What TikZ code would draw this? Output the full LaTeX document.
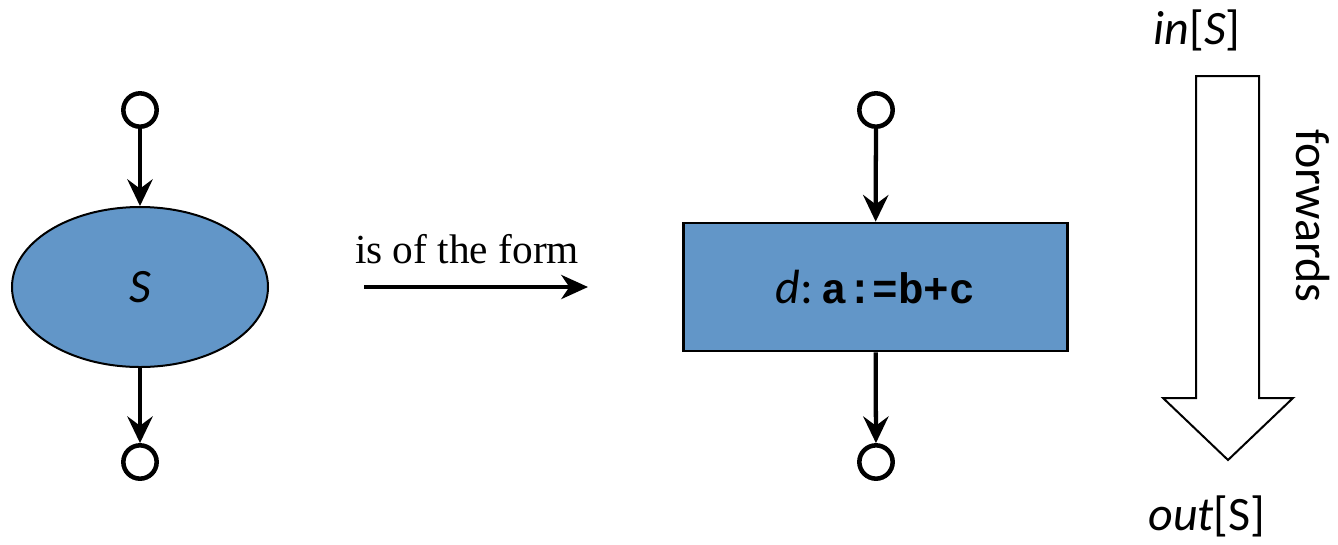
\documentclass[tikz,border=0pt]{standalone}
\usepackage{fontspec}
\setmainfont{Carlito}
\newfontfamily\seriffont{Liberation Serif}
\newfontfamily\codefont{Liberation Mono}
\usetikzlibrary{shapes.geometric,arrows.meta}
\definecolor{stmtblue}{RGB}{98,150,200}
\tikzset{
  port/.style={circle,draw=black,line width=3.4pt,fill=white,minimum size=25pt,inner sep=0pt},
  flow/.style={line width=3.2pt,-{Stealth[length=20pt,width=19pt,inset=7pt]}},
  stmt/.style={fill=stmtblue,draw=black},
  lbl/.style={font=\fontsize{36}{40}\selectfont,inner sep=0pt}
}
\begin{document}
\begin{tikzpicture}[x=0.75pt,y=-0.75pt]
\useasboundingbox (0,0) rectangle (1338,544);
% left part
\node[port] (lt) at (140,110) {};
\node[stmt,ellipse,line width=1.5pt,minimum width=192pt,minimum height=120pt,inner sep=0pt] (S) at (140,287) {\fontsize{36}{40}\selectfont\itshape S};
\node[port] (lb) at (140,462) {};
\draw[flow] (lt) -- (S);
\draw[flow] (S) -- (lb);
% middle arrow
\coordinate (ma) at (364,287);
\coordinate (mb) at (588,287);
\draw[line width=3.2pt,-{Stealth[length=20pt,width=18pt,inset=6pt]}] (ma) -- (mb);
\node[inner sep=0pt,font=\seriffont\fontsize{31}{36}\selectfont] (form) at (467,249) {is of the form};
% right part
\node[port] (rt) at (876,110) {};
\node[stmt,rectangle,line width=2pt,minimum width=288pt,minimum height=96pt,inner sep=0pt] (d) at (875.5,287) {\fontsize{36}{40}\selectfont\itshape d\upshape:\hspace{6pt}\codefont\bfseries\fontsize{32}{36}\selectfont a:=b+c};
\node[port] (rb) at (876,462) {};
\draw[flow] (rt) -- (d);
\draw[flow] (d) -- (rb);
% big hollow arrow
\draw[line width=1.5pt,fill=white,line join=miter] (1196,76) -- (1259,76) -- (1259,398) -- (1293,398) -- (1228,460) -- (1163,398) -- (1196,398) -- cycle;
\node[lbl] (in) at (1197,30) {\itshape in\upshape[\itshape S\upshape]};
\node[lbl] (out) at (1207,516) {\itshape out\upshape[S]};
\node[lbl,rotate=-90] (fw) at (1313,216) {forwards};
\end{tikzpicture}
\end{document}
